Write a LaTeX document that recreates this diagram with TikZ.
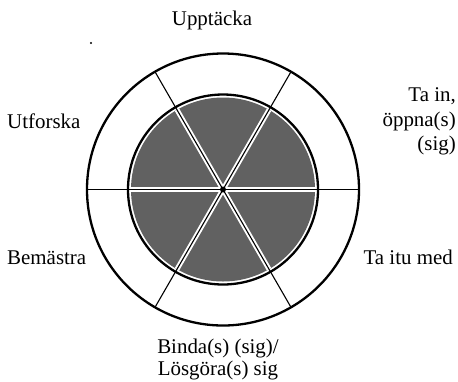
\documentclass[tikz,border=0pt]{standalone}
\usepackage{fontspec}
\setmainfont{Liberation Serif}

\begin{document}
\begin{tikzpicture}[x=1bp, y=-1bp,
    every node/.style={font=\fontsize{21}{24.5}\selectfont, inner sep=0pt},
    ring/.style={line width=2.3bp},
    spoke/.style={line width=1.1bp}]
  \useasboundingbox (0,0) rectangle (458,381);
  \coordinate (c) at (223,189.5);
  % shaded core
  \fill[black!62] (c) circle[radius=92];
  \foreach \a in {0,60,...,300}
    \draw[white, line width=5bp] (c) -- ++(\a:92);
  \draw[ring] (c) circle[radius=95];
  \draw[ring] (c) circle[radius=136];
  \foreach \a in {0,60,...,300}
    \draw[spoke] (c) -- ++(\a:136);
  \fill (c) circle[radius=3];
  \fill (91,43) circle[radius=1.2];
  % labels
  \node[anchor=base] (upp) at (212,25) {Upptäcka};
  \node[anchor=base west] (utf) at (7,128.5) {Utforska};
  \node[anchor=base east, align=right] (tain) at (456,150.5) {Ta in,\\öppna(s)\\(sig)};
  \node[anchor=base west] (bem) at (7,264.5) {Bemästra};
  \node[anchor=base east] (itu) at (453,264.5) {Ta itu med};
  \node[anchor=base, align=center,
    font=\fontsize{21}{22.5}\selectfont] (bind) at (218,375.5) {Binda(s) (sig)/\\Lösgöra(s) sig};
\end{tikzpicture}
\end{document}
